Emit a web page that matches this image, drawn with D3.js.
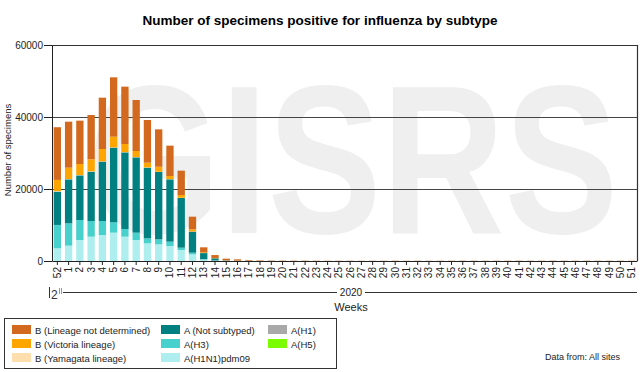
<!DOCTYPE html>
<html>
<head>
<meta charset="utf-8">
<script src="https://cdn.jsdelivr.net/npm/d3@7"></script>
<style>
  body { margin: 0; background: #fff; }
  svg { font-family: "Liberation Sans", Arial, sans-serif; }
</style>
</head>
<body>
<svg width="640" height="372"></svg>
<script>
// Weeks (2019 week 52, then 2020 weeks 1..51)
var weeks = ["52"];
for (var w = 1; w <= 51; w++) weeks.push(String(w));

// Series values
var bNotDetermined = [14630, 12770, 12040, 12310, 14260, 16480, 15930, 14170, 11860, 10370, 8430, 6760, 3510,
  1400, 800, 450, 350, 180, 120, 100, 90, 80, 80, 70, 60, 60, 60, 50, 50, 50, 60, 50, 60, 50, 60, 60,
  70, 60, 60, 70, 60, 70, 60, 60, 70, 60, 60, 70, 60, 60, 60, 50];
var bVictoria = [3100, 3140, 3040, 3310, 3420, 2960, 2240, 1670, 1300, 1410, 860, 770, 610,
  180, 90, 40, 20, 10, 10, 5, 5, 5, 5, 5, 5, 5, 5, 5, 5, 5, 5, 5, 5, 5, 5, 5,
  5, 5, 5, 5, 5, 5, 5, 5, 5, 5, 5, 5, 5, 5, 5, 5];
var bYamagata = [150, 100, 100, 120, 100, 100, 80, 80, 80, 70, 60, 60, 40,
  20, 10, 5, 5, 0, 0, 0, 0, 0, 0, 0, 0, 0, 0, 0, 0, 0, 0, 0, 0, 0, 0, 0,
  0, 0, 0, 0, 0, 0, 0, 0, 0, 0, 0, 0, 0, 0, 0, 0];
var aNotSubtyped = [9260, 12230, 12410, 13700, 16480, 20740, 21290, 20930, 19630, 18700, 17320, 13800, 5840,
  1700, 600, 100, 60, 30, 20, 15, 10, 10, 10, 10, 10, 10, 10, 10, 10, 10, 10, 10, 10, 10, 10, 10,
  10, 10, 10, 10, 10, 10, 10, 10, 10, 10, 10, 10, 10, 10, 10, 10];
var aH3 = [6500, 6200, 5560, 4350, 3890, 2870, 2130, 2040, 1390, 1390, 1200, 640, 460,
  100, 50, 20, 10, 5, 5, 0, 0, 0, 0, 0, 0, 0, 0, 0, 0, 0, 0, 0, 0, 0, 0, 0,
  0, 0, 0, 0, 0, 0, 0, 0, 0, 0, 0, 0, 0, 0, 0, 0];
var aH1N1pdm09 = [3520, 4260, 5830, 6760, 7220, 7870, 6760, 5830, 4910, 4630, 4170, 3060, 1850,
  400, 100, 30, 15, 10, 5, 5, 0, 0, 0, 0, 0, 0, 0, 0, 0, 0, 0, 0, 0, 0, 0, 0,
  0, 0, 0, 0, 0, 0, 0, 0, 0, 0, 0, 0, 0, 0, 0, 0];
var aH1 = weeks.map(function() { return 0; });
var aH5 = weeks.map(function() { return 0; });

var yTicks = [0, 20000, 40000, 60000];

// stacking order, bottom to top
var series = [
  { key: "A(H1N1)pdm09", values: aH1N1pdm09, color: "#afeeee" },
  { key: "A(H3)", values: aH3, color: "#48d1cc" },
  { key: "A(H1)", values: aH1, color: "#a9a9a9" },
  { key: "A(H5)", values: aH5, color: "#7cfc00" },
  { key: "A (Not subtyped)", values: aNotSubtyped, color: "#008080" },
  { key: "B (Yamagata lineage)", values: bYamagata, color: "#ffdead" },
  { key: "B (Victoria lineage)", values: bVictoria, color: "#ffa500" },
  { key: "B (Lineage not determined)", values: bNotDetermined, color: "#d2691e" }
];

var svg = d3.select("svg");
var plotLeft = 52, plotRight = 637, plotTop = 45, plotBottom = 261;

var x = d3.scaleBand().domain(weeks).range([plotLeft, plotRight]).paddingInner(0.35).paddingOuter(0.15);
var y = d3.scaleLinear().domain([0, 60000]).range([plotBottom, plotTop]);

// Watermark
svg.append("text")
  .attr("x", 88).attr("y", 233)
  .attr("textLength", 530).attr("lengthAdjust", "spacingAndGlyphs")
  .style("font-size", "212px").style("font-weight", "bold")
  .attr("fill", "#efefef")
  .text("GISRS");

// Title
svg.append("text")
  .attr("x", 320).attr("y", 25)
  .attr("text-anchor", "middle")
  .style("font-size", "13.5px").style("font-weight", "bold")
  .text("Number of specimens positive for influenza by subtype");

// Gridlines
svg.append("g").selectAll("line")
  .data(yTicks.slice(1, 3))
  .enter().append("line")
  .attr("x1", plotLeft).attr("x2", plotRight)
  .attr("y1", function(d) { return Math.round(y(d)) + 0.5; })
  .attr("y2", function(d) { return Math.round(y(d)) + 0.5; })
  .attr("stroke", "#444");

// Bars
var rows = weeks.map(function(wk, i) {
  var r = { week: wk };
  series.forEach(function(s) { r[s.key] = s.values[i]; });
  return r;
});
var stack = d3.stack().keys(series.map(function(s) { return s.key; }));
var layers = stack(rows);

svg.append("g").selectAll("g")
  .data(layers)
  .enter().append("g")
  .attr("fill", function(d, i) { return series[i].color; })
  .selectAll("rect")
  .data(function(d) { return d; })
  .enter().append("rect")
  .attr("x", function(d) { return x(d.data.week); })
  .attr("width", x.bandwidth())
  .attr("y", function(d) { return y(d[1]); })
  .attr("height", function(d) { return Math.max(0, y(d[0]) - y(d[1])); });

// Axes
var yAxis = svg.append("g")
  .attr("transform", "translate(" + plotLeft + ",0)")
  .call(d3.axisLeft(y).tickValues(yTicks).tickSize(8).tickPadding(1).tickSizeOuter(0).tickFormat(d3.format("d")));
yAxis.selectAll("text").style("font-size", "10px").attr("fill", "#222");
yAxis.selectAll("line").attr("stroke", "#222");
yAxis.select(".domain").attr("stroke", "#222");

var xAxis = svg.append("g")
  .attr("transform", "translate(0," + plotBottom + ")")
  .call(d3.axisBottom(x).tickSize(4).tickSizeOuter(0));
xAxis.select(".domain").attr("stroke", "#222");
xAxis.selectAll("line").attr("stroke", "#222");
xAxis.selectAll("text")
  .style("font-size", "10px").attr("fill", "#222")
  .attr("transform", "rotate(-90)")
  .attr("text-anchor", "end")
  .attr("x", -6).attr("y", 0).attr("dy", "0.35em");

// Frame: top and right edges
svg.append("path")
  .attr("d", "M" + plotLeft + "," + (plotTop + 0.5) + "H" + (plotRight + 0.5) + "V" + plotBottom)
  .attr("fill", "none")
  .attr("stroke", "#333")
  .attr("stroke-width", 1.2);

// Y axis title
svg.append("text")
  .attr("transform", "translate(11,150) rotate(-90)")
  .attr("text-anchor", "middle")
  .style("font-size", "9.5px").attr("fill", "#222")
  .text("Number of specimens");

// Year bands
svg.append("line").attr("x1", 49.5).attr("x2", 49.5).attr("y1", 287).attr("y2", 298).attr("stroke", "#333");
svg.append("clipPath").attr("id", "clip2019")
  .append("rect").attr("x", 51).attr("y", 280).attr("width", 7).attr("height", 22);
svg.append("text")
  .attr("clip-path", "url(#clip2019)")
  .attr("x", 51).attr("y", 299)
  .style("font-size", "12px").attr("fill", "#333")
  .text("2019");
svg.append("line").attr("x1", 59.5).attr("x2", 59.5).attr("y1", 288).attr("y2", 294).attr("stroke", "#999");
svg.append("line").attr("x1", 61.5).attr("x2", 61.5).attr("y1", 288).attr("y2", 294).attr("stroke", "#999");

var yearMid = (x("1") + plotRight) / 2;
svg.append("line").attr("x1", 63).attr("x2", yearMid - 14).attr("y1", 292.5).attr("y2", 292.5).attr("stroke", "#333");
svg.append("line").attr("x1", yearMid + 14).attr("x2", plotRight).attr("y1", 292.5).attr("y2", 292.5).attr("stroke", "#333");
svg.append("text")
  .attr("x", yearMid).attr("y", 296)
  .attr("text-anchor", "middle")
  .style("font-size", "10px").attr("fill", "#222")
  .text("2020");
svg.append("text")
  .attr("x", yearMid).attr("y", 311)
  .attr("text-anchor", "middle")
  .style("font-size", "11px").attr("fill", "#222")
  .text("Weeks");

// Legend
svg.append("rect")
  .attr("x", 4.5).attr("y", 318.5).attr("width", 332).attr("height", 50)
  .attr("fill", "none").attr("stroke", "#333");
var legendOrder = [
  "B (Lineage not determined)", "B (Victoria lineage)", "B (Yamagata lineage)",
  "A (Not subtyped)", "A(H3)", "A(H1N1)pdm09",
  "A(H1)", "A(H5)"
];
var colX = [12, 161, 268];
var legend = svg.append("g").selectAll("g")
  .data(legendOrder)
  .enter().append("g")
  .attr("transform", function(d, i) {
    return "translate(" + colX[Math.floor(i / 3)] + "," + (325 + (i % 3) * 14) + ")";
  });
legend.append("rect")
  .attr("width", 19).attr("height", 9)
  .attr("fill", function(d) { return series.find(function(s) { return s.key === d; }).color; });
legend.append("text")
  .attr("x", 23).attr("y", 8.5)
  .style("font-size", "9.5px").attr("fill", "#222")
  .text(function(d) { return d; });

svg.append("text")
  .attr("x", 545).attr("y", 360)
  .style("font-size", "9px").attr("fill", "#222")
  .text("Data from: All sites");
</script>
</body>
</html>
